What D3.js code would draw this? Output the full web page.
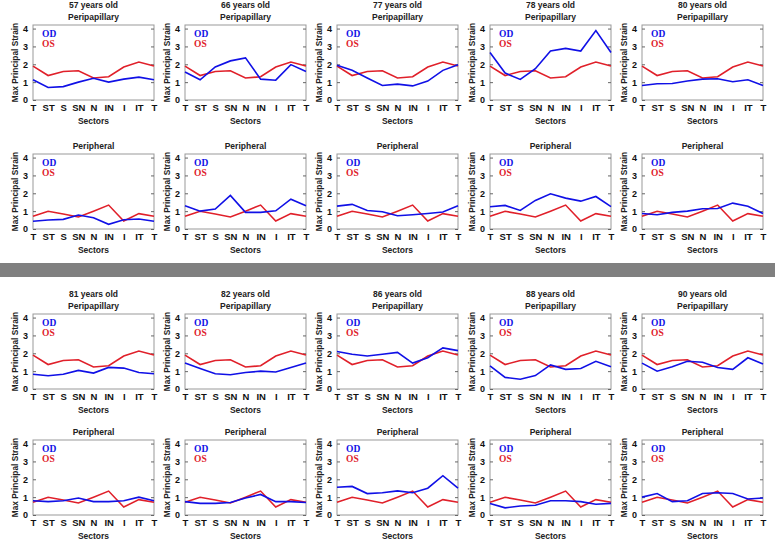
<!DOCTYPE html>
<html><head><meta charset="utf-8">
<script src="https://cdn.jsdelivr.net/npm/d3@7"></script>
<style>html,body{margin:0;padding:0;background:#fff;}svg{display:block;}</style>
</head><body>
<svg id="c" width="775" height="542"></svg>
<script>
const sectors = ["T","ST","S","SN","N","IN","I","IT","T"];
const ages = ["57 years old","66 years old","77 years old","78 years old","80 years old","81 years old","82 years old","86 years old","88 years old","90 years old"];
const yTicks = [0,1,2,3,4];
const osPeripapillary = [1.9,1.37,1.6,1.64,1.23,1.3,1.85,2.13,1.9];
const osPeripheral = [0.71,0.99,0.84,0.67,1.0,1.34,0.45,0.86,0.71];
const odPeripapillary = [
  [1.13,0.7,0.75,1.0,1.22,1.0,1.17,1.28,1.13],
  [1.57,1.13,1.85,2.19,2.36,1.17,1.11,1.98,1.6],
  [1.94,1.66,1.23,0.81,0.89,0.79,1.06,1.66,1.98],
  [2.66,1.51,1.15,1.75,2.74,2.89,2.74,3.89,2.66],
  [0.81,0.91,0.92,1.06,1.17,1.19,1.02,1.13,0.81],
  [0.83,0.74,0.83,1.04,0.89,1.21,1.17,0.92,0.85],
  [1.45,1.15,0.85,0.8,0.92,1.0,0.95,1.2,1.45],
  [2.1,1.95,1.85,1.95,2.05,1.45,1.75,2.3,2.15],
  [1.3,0.65,0.55,0.75,1.35,1.1,1.15,1.55,1.25],
  [1.45,1.0,1.25,1.55,1.5,1.2,1.1,1.75,1.4]
];
const odPeripheral = [
  [0.43,0.5,0.54,0.78,0.63,0.26,0.52,0.56,0.43],
  [1.3,1.0,1.12,1.88,0.93,0.93,1.02,1.67,1.3],
  [1.28,1.38,1.04,0.97,0.74,0.8,0.87,0.95,1.3],
  [1.25,1.32,1.04,1.6,1.97,1.73,1.56,1.82,1.25],
  [0.87,0.8,0.93,1.0,1.13,1.15,1.45,1.27,0.87],
  [0.8,0.75,0.8,0.95,0.75,0.75,0.8,1.0,0.8],
  [0.75,0.65,0.65,0.7,0.95,1.15,0.75,0.75,0.7],
  [1.55,1.6,1.2,1.25,1.35,1.25,1.5,2.2,1.5],
  [0.65,0.4,0.5,0.55,0.8,0.8,0.75,0.6,0.65],
  [1.0,1.2,0.75,0.8,1.2,1.25,1.2,0.9,0.95]
];

const svg = d3.select("#c");
const colLeft = [33,185,337,490,642];
const pw = 121, ph = 75;
const rowTop = [25,154,314,440];
const blue = "#1010e6", red = "#e0202a";
const sans = "'Liberation Sans', Arial, sans-serif";
const serif = "'Liberation Serif', 'Times New Roman', serif";

// gray separator
svg.append("rect").attr("x",0).attr("y",263).attr("width",775).attr("height",14).attr("fill","#808080");

function panel(left, top, od, os, title1, title2){
  const g = svg.append("g").attr("transform",`translate(${left},${top})`);
  const x = d3.scaleLinear().domain([0,8]).range([0,pw]);
  const y = d3.scaleLinear().domain([0,4.2]).range([ph,0]);
  if (title1) g.append("text").attr("x",pw/2).attr("y",-17).attr("text-anchor","middle")
      .attr("font-family",sans).attr("font-weight","bold").attr("font-size","8.5px").attr("fill","#222").text(title1);
  g.append("text").attr("x",pw/2).attr("y",-5).attr("text-anchor","middle")
      .attr("font-family",sans).attr("font-weight","bold").attr("font-size","8.5px").attr("fill","#222").text(title2);
  g.append("rect").attr("x",0).attr("y",0).attr("width",pw).attr("height",ph)
    .attr("fill","none").attr("stroke","#999").attr("stroke-width",1);
  const ya = g.append("g").call(d3.axisLeft(y).tickValues(yTicks).tickSize(-3).tickPadding(5).tickFormat(d3.format("d")));
  ya.select(".domain").remove();
  ya.selectAll("line").attr("stroke","#666");
  ya.selectAll("text").attr("font-family",sans).attr("font-weight","bold").attr("font-size","9px").attr("fill","#111");
  const yr = g.append("g").attr("transform",`translate(${pw},0)`).call(d3.axisRight(y).tickValues(yTicks).tickSize(-3).tickFormat(""));
  yr.select(".domain").remove();
  yr.selectAll("line").attr("stroke","#666");
  const xa = g.append("g").attr("transform",`translate(0,${ph})`)
    .call(d3.axisBottom(x).tickValues(d3.range(sectors.length)).tickSize(0).tickPadding(4).tickFormat(i=>sectors[i]));
  xa.select(".domain").remove();
  xa.selectAll("text").attr("font-family",sans).attr("font-weight","bold").attr("font-size","9.5px").attr("fill","#111");
  g.append("text").attr("x",pw/2).attr("y",ph+24).attr("text-anchor","middle")
    .attr("font-family",sans).attr("font-weight","bold").attr("font-size","8.5px").attr("fill","#222").text("Sectors");
  g.append("text").attr("transform",`translate(-15,${ph/2}) rotate(-90)`).attr("text-anchor","middle")
    .attr("font-family",sans).attr("font-weight","bold").attr("font-size","8.3px").attr("fill","#222").text("Max Principal Strain");
  const line = d3.line().x((d,i)=>x(i)).y(d=>y(d));
  g.append("path").datum(os).attr("d",line).attr("fill","none").attr("stroke",red).attr("stroke-width",1.6);
  g.append("path").datum(od).attr("d",line).attr("fill","none").attr("stroke",blue).attr("stroke-width",1.6);
  g.append("text").attr("x",9).attr("y",12).attr("font-family",serif).attr("font-weight","bold").attr("font-size","9.5px").attr("fill",blue).text("OD");
  g.append("text").attr("x",9).attr("y",22).attr("font-family",serif).attr("font-weight","bold").attr("font-size","9.5px").attr("fill",red).text("OS");
}

for (let k=0;k<10;k++){
  const c = k%5, r = Math.floor(k/5);
  panel(colLeft[c], rowTop[r*2], odPeripapillary[k], osPeripapillary, ages[k], "Peripapillary");
  panel(colLeft[c], rowTop[r*2+1], odPeripheral[k], osPeripheral, null, "Peripheral");
}
</script>
</body></html>
